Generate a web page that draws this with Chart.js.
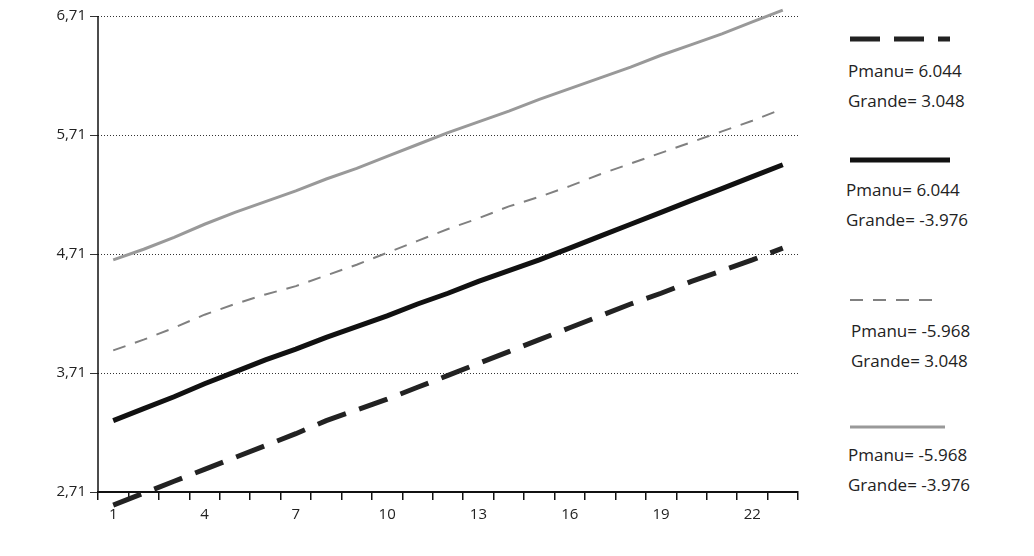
<!DOCTYPE html>
<html>
<head>
<meta charset="utf-8">
<script src="https://cdn.jsdelivr.net/npm/chart.js@4/dist/chart.umd.min.js"></script>
<style>
  body { margin: 0; background: #fff; font-family: "Open Sans", sans-serif; }
  #wrap { position: absolute; left: 0; top: 0; width: 810px; height: 556px; }
  .leg { position: absolute; left: 848px; font-size: 17px; color: #222; line-height: 30px; }
  .sw { position: absolute; left: 850px; }
</style>
</head>
<body>
<div id="wrap"><canvas id="c"></canvas></div>

<svg class="sw" style="top:32px" width="110" height="14"><line x1="0" y1="7" x2="100" y2="7" stroke="#222" stroke-width="5" stroke-dasharray="30,14"/></svg>
<div class="leg" style="top:56px">Pmanu= 6.044<br>Grande= 3.048</div>
<svg class="sw" style="top:153px" width="110" height="14"><line x1="-2" y1="7" x2="100" y2="7" stroke="#111" stroke-width="5"/></svg>
<div class="leg" style="top:175px;left:846px">Pmanu= 6.044<br>Grande= -3.976</div>
<svg class="sw" style="top:293px" width="110" height="14"><line x1="0" y1="7" x2="85" y2="7" stroke="#808080" stroke-width="2" stroke-dasharray="13,10"/></svg>
<div class="leg" style="top:316px;left:851px">Pmanu= -5.968<br>Grande= 3.048</div>
<svg class="sw" style="top:420px" width="110" height="14"><line x1="0" y1="7" x2="95" y2="7" stroke="#999" stroke-width="3"/></svg>
<div class="leg" style="top:440px">Pmanu= -5.968<br>Grande= -3.976</div>

<script>
// categories 1..23
const labels = Array.from({ length: 23 }, (_, i) => String(i + 1));

// Pmanu=6.044 Grande=3.048
const blackDashed = [2.60, 2.70, 2.80, 2.90, 3.00, 3.10, 3.20, 3.31, 3.40, 3.49, 3.59, 3.69, 3.79, 3.89, 3.99, 4.09, 4.19, 4.29, 4.38, 4.48, 4.57, 4.66, 4.76];
// Pmanu=6.044 Grande=-3.976
const blackSolid = [3.31, 3.41, 3.51, 3.62, 3.72, 3.82, 3.91, 4.01, 4.10, 4.19, 4.29, 4.38, 4.48, 4.57, 4.66, 4.76, 4.86, 4.96, 5.06, 5.16, 5.26, 5.36, 5.46];
// Pmanu=-5.968 Grande=3.048
const greyDashed = [3.90, 3.99, 4.09, 4.20, 4.29, 4.37, 4.44, 4.53, 4.62, 4.72, 4.82, 4.92, 5.01, 5.11, 5.19, 5.28, 5.38, 5.47, 5.56, 5.65, 5.74, 5.83, 5.93];
// Pmanu=-5.968 Grande=-3.976
const greySolid = [4.66, 4.75, 4.85, 4.96, 5.06, 5.15, 5.24, 5.34, 5.43, 5.53, 5.63, 5.73, 5.82, 5.91, 6.01, 6.10, 6.19, 6.28, 6.38, 6.47, 6.56, 6.66, 6.76];

const yTicks = [2.71, 3.71, 4.71, 5.71, 6.71];

Chart.defaults.font.family = "Open Sans";
Chart.defaults.font.size = 15;
Chart.defaults.color = "#222";

new Chart(document.getElementById("c"), {
  type: "line",
  data: {
    labels: labels,
    datasets: [
      { data: greySolid, borderColor: "#999", borderWidth: 3, pointRadius: 0, tension: 0, clip: false },
      { data: greyDashed, borderColor: "#808080", borderWidth: 2, borderDash: [13, 10], pointRadius: 0, tension: 0, clip: false },
      { data: blackSolid, borderColor: "#111", borderWidth: 5, pointRadius: 0, tension: 0, clip: false },
      { data: blackDashed, borderColor: "#222", borderWidth: 5, borderDash: [30, 14], pointRadius: 0, tension: 0, clip: false },
    ],
  },
  options: {
    responsive: true,
    maintainAspectRatio: false,
    animation: false,
    layout: { padding: { top: 16, right: 12, left: 0, bottom: 0 } },
    plugins: { legend: { display: false }, tooltip: { enabled: false } },
    scales: {
      x: {
        offset: true,
        afterFit: (s) => { s.height = 64; },
        grid: { offset: true, drawOnChartArea: false, color: "#111", tickLength: 8, lineWidth: 1.5 },
        border: { color: "#111", width: 2 },
        ticks: {
          font: { size: 15 }, maxRotation: 0, autoSkip: false, padding: 6,
          callback: (v, i) => (i % 3 === 0 ? labels[i] : ""),
        },
      },
      y: {
        min: 2.71,
        max: 6.71,
        afterFit: (s) => { s.width = 98; },
        afterBuildTicks: (axis) => { axis.ticks = yTicks.map((v) => ({ value: v })); },
        grid: { color: "#333", lineWidth: 1, tickLength: 8 },
        border: { display: false, dash: [1, 2] },
        ticks: {
          font: { size: 15 }, padding: 4,
          callback: (v) => v.toFixed(2).replace(".", ","),
        },
      },
    },
  },
  plugins: [{
    id: "yAxisLine",
    afterDraw: (chart) => {
      const { ctx, chartArea } = chart;
      ctx.save();
      ctx.strokeStyle = "#111";
      ctx.lineWidth = 1.5;
      ctx.beginPath();
      ctx.moveTo(chartArea.left, chartArea.top);
      ctx.lineTo(chartArea.left, chartArea.bottom);
      ctx.stroke();
      ctx.restore();
    },
  }],
});
</script>
</body>
</html>
